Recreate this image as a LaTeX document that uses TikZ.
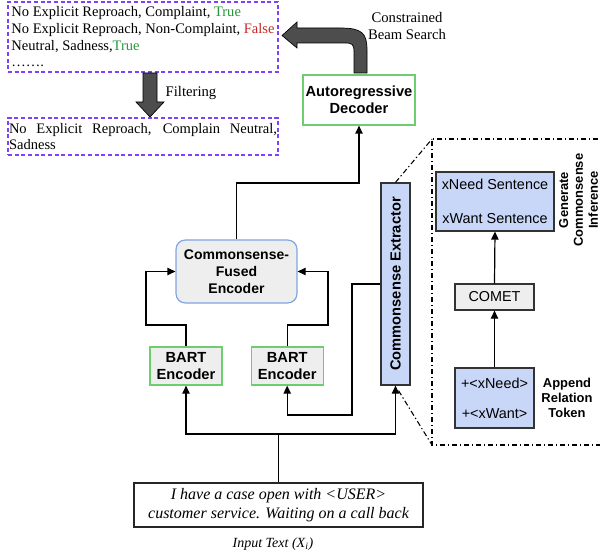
\documentclass[tikz,border=0pt]{standalone}
\usepackage{fontspec}
\setmainfont{Liberation Serif}
\setsansfont{Liberation Sans}
\usetikzlibrary{arrows.meta,positioning,calc}

\definecolor{boxgreen}{RGB}{110,205,110}
\definecolor{exblue}{RGB}{200,214,248}
\definecolor{boxgray}{RGB}{238,238,238}
\definecolor{edgeblue}{RGB}{126,166,224}
\definecolor{dashviolet}{RGB}{127,63,255}
\definecolor{okgreen}{RGB}{40,150,60}
\definecolor{badred}{RGB}{200,40,40}
\definecolor{bigarrow}{RGB}{77,77,77}

\begin{document}
\begin{tikzpicture}[x=0.75pt, y=-0.75pt, >={Triangle[length=6pt,width=5.5pt]}, line width=0.9pt]
	\tikzstyle{every node}=[font=\sffamily\bfseries\fontsize{11}{12.5}\selectfont]
	\tikzstyle{greenbox}=[draw=boxgreen, align=center, inner sep=1pt]
	\tikzstyle{bluebox}=[draw=black!80, fill=exblue, align=center, font=\sffamily\fontsize{10.8}{13}\selectfont]
	\tikzstyle{graybox}=[draw=black!80, fill=boxgray, align=center, font=\sffamily\fontsize{10.8}{13}\selectfont]
	\tikzstyle{dashbox}=[draw=dashviolet, dash pattern=on 3pt off 2pt, line width=0.8pt, minimum width=202.5pt, inner sep=0.75pt, font=\rmfamily\fontsize{10.9}{12.5}\selectfont]
	\tikzstyle{plain}=[font=\rmfamily\fontsize{11}{12.75}\selectfont, align=center]
	\tikzstyle{sidelabel}=[font=\sffamily\bfseries\fontsize{9.7}{11.2}\selectfont, align=center]
	\tikzstyle{zoomline}=[line width=0.8pt, dash pattern=on 4pt off 2pt on 1pt off 2pt]
	\tikzstyle{blockarrow}=[fill=bigarrow, draw=black, line width=0.5pt]

	\useasboundingbox (0,0) rectangle (600,556);

	% decoder output and filtering
	\node[dashbox, align=left, minimum height=52.5pt] (cands) at (143,37) {No Explicit Reproach, Complaint, \textcolor{okgreen}{True}\\
		No Explicit Reproach, Non-Complaint, \textcolor{badred}{False}\\
		Neutral, Sadness,\textcolor{okgreen}{True}\\
		…….};
	\node[dashbox, text width=201pt, align=justify, minimum height=27.75pt] (kept) at (143,136.5) {No Explicit Reproach, Complain Neutral, \mbox{Sadness}};
	\node[plain] (filt) at (191,93) {Filtering};
	\node[plain] (beam) at (407,26) {Constrained\\Beam Search};

	\node[greenbox, fill=white, minimum width=84pt, minimum height=37.5pt] (dec) at (359,100) {Autoregressive\\Decoder};
	\node[draw=edgeblue, fill=boxgray, rounded corners=7pt, align=center, font=\sffamily\bfseries\fontsize{10.5}{12.75}\selectfont, minimum width=90.75pt, minimum height=47.25pt] (fused) at (236.5,271.5) {Commonsense-\\Fused\\Encoder};
	\node[greenbox, fill=boxgray, minimum width=54pt, minimum height=28.5pt] (bartL) at (186,366) {BART\\Encoder};
	\node[greenbox, fill=boxgray, minimum width=54pt, minimum height=28.5pt, right=21pt of bartL] (bartR) {BART\\Encoder};
	\node[draw=black!80, fill=exblue, minimum width=21.75pt, minimum height=151.5pt, inner sep=0pt] (ext) at (395.5,284) {\rotatebox{90}{Commonsense Extractor}};

	\node[draw=black!85, align=center, font=\rmfamily\itshape\fontsize{12}{14.2}\selectfont, minimum width=216.75pt, minimum height=33pt] (inp) at (278.5,505) {I have a case open with <USER>\\customer service. Waiting on a call back};
	\node[plain, font=\rmfamily\itshape\fontsize{10.5}{12}\selectfont] (inplab) at (273,544) {Input Text (X\textsubscript{i})};

	% inside the extractor
	\node[bluebox, minimum width=88.5pt, minimum height=44.25pt] (gen) at (495,201.5) {xNeed Sentence\\[12.5pt]xWant Sentence};
	\node[graybox, minimum width=59.25pt, minimum height=19.5pt] (comet) at (494.5,297) {COMET};
	\node[bluebox, minimum width=59.25pt, minimum height=45pt] (app) at (494.5,398) {+<xNeed>\\[9.5pt]+<xWant>};
	\node[sidelabel] (applab) at (567,398) {Append\\Relation\\Token};
	\node[sidelabel] (genlab) at (580,200) {\rotatebox{90}{\begin{tabular}{@{}c@{}}Generate\\Commonsense\\Inference\end{tabular}}};

	\coordinate (upturn) at (359,183);
	\coordinate (lturn) at (146,325);
	\coordinate (rturn) at (328,325);
	\coordinate (eturn) at (352,415);
	\coordinate (split) at (278.5,434);
	\coordinate (zt) at (432,139);
	\coordinate (zb) at (432,445);

	\draw[->] (fused.north) |- (upturn) -- (dec.south);
	\draw[->] (bartL.north) |- (lturn) |- (fused.west);
	\draw[->] (bartR.north) |- (rturn) |- (fused.east);
	\draw[->] (ext.west) -| (eturn) -| (bartR.south);
	\draw (inp.north) -- (split);
	\draw[->] (split) -| (bartL.south);
	\draw[->] (split) -| (ext.south);
	\draw[->] (app.north) -- (comet.south);
	\draw[->] (comet.north) -- (gen.south);

	% zoom into the extractor
	\draw[zoomline] (ext.north) -- (zt);
	\draw[zoomline] ($(ext.south)+(3,5)$) -- (zb);
	\draw[zoomline] (610,139) -- (zt) -- (zb) -- (610,445);

	% block arrows
	\filldraw[blockarrow] (143,73) -- (157,73) -- (157,102) -- (164,102) -- (150,117) -- (136,102) -- (143,102) -- cycle;
	\filldraw[blockarrow] (354,73) -- (354,52) .. controls (354,44) and (352,43) .. (345,43) -- (297,43) -- (297,48) -- (282,35.5) -- (297,22) -- (297,28) -- (340,28) .. controls (362,28) and (367,33) .. (367,50) -- (367,73) -- cycle;
\end{tikzpicture}
\end{document}
